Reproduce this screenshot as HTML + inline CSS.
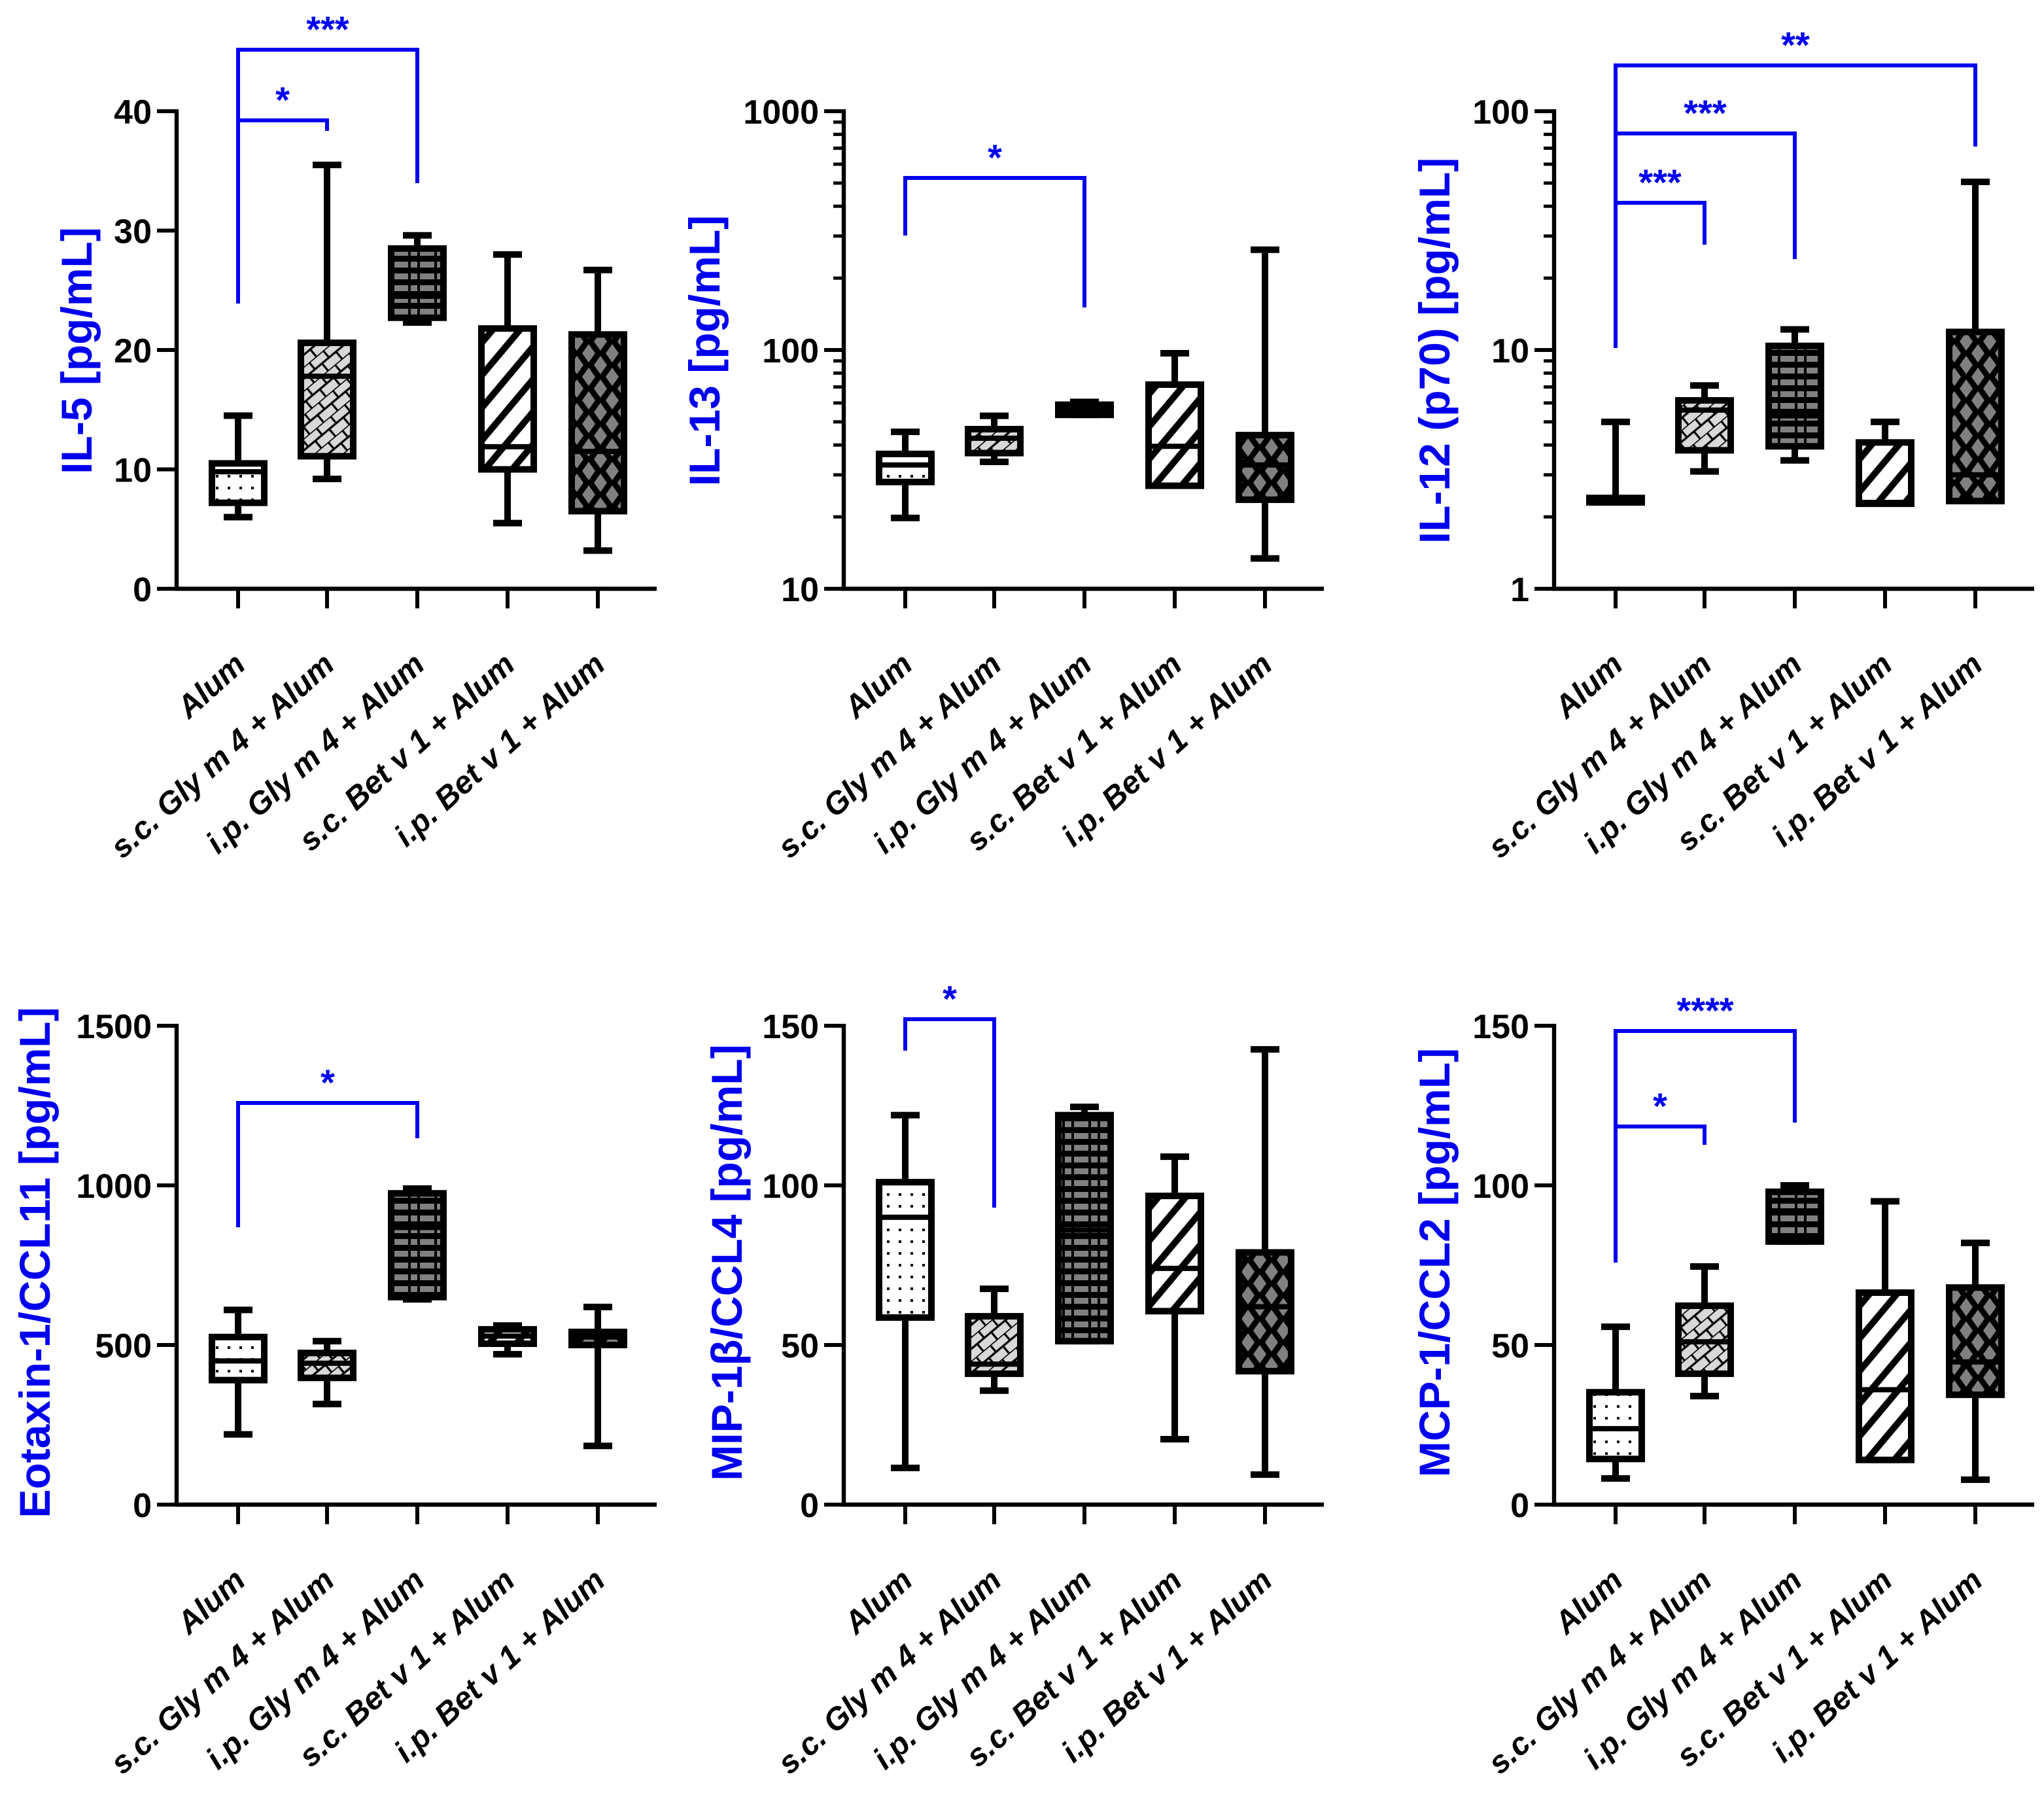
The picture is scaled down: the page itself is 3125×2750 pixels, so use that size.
<!DOCTYPE html>
<html><head><meta charset="utf-8"><style>
html,body{margin:0;padding:0;background:#fff;}
svg{display:block;font-family:"Liberation Sans",Arial,sans-serif;}
</style></head><body>
<svg id="fig" width="3125" height="2750" viewBox="0 0 1562.5 1375" xmlns="http://www.w3.org/2000/svg">
<defs>
<pattern id="p0" width="9" height="9" patternUnits="userSpaceOnUse"><rect width="9" height="9" fill="#fff"/><rect x="3" y="3" width="2" height="2" fill="#000"/></pattern>
<pattern id="p1" width="14" height="14" patternUnits="userSpaceOnUse" patternTransform="rotate(-40)"><rect width="14" height="14" fill="#d8d8d8"/><path d="M0 0H14M0 7H14M3 0V7M10 7V14" stroke="#000" stroke-width="1.6"/></pattern>
<pattern id="p2" width="20" height="9" patternUnits="userSpaceOnUse"><rect width="20" height="9" fill="#000"/><rect x="1" y="2" width="11" height="4.5" fill="#808080"/><rect x="14" y="2" width="5" height="4.5" fill="#808080"/></pattern>
<pattern id="p3" width="16" height="16" patternUnits="userSpaceOnUse" patternTransform="rotate(40)"><rect width="16" height="16" fill="#fff"/><rect x="0" y="0" width="5" height="16" fill="#000"/></pattern>
<pattern id="p4" width="18" height="18" patternUnits="userSpaceOnUse"><rect width="18" height="18" fill="#000"/><path d="M9 2L14 9L9 16L4 9Z" fill="#808080"/><path d="M0 -7L5 0L0 7L-5 0Z M18 -7L23 0L18 7L13 0Z M0 11L5 18L0 25L-5 18Z M18 11L23 18L18 25L13 18Z" fill="#808080"/></pattern>
</defs>
</svg>
<script>
const categories = ["Alum","s.c. Gly m 4 + Alum","i.p. Gly m 4 + Alum","s.c. Bet v 1 + Alum","i.p. Bet v 1 + Alum"];
// [min, q1, median, q3, max] per category
const il5 = [[6,7.2,9.8,10.5,14.5],[9.2,11.1,17.8,20.6,35.5],[22.3,22.7,24.5,28.5,29.6],[5.5,10,11.9,21.8,28],[3.2,6.5,11.5,21.3,26.7]];
const il13 = [[19.8,28,33,36.7,45.4],[34,37,42.7,46.6,53],[53.5,53.5,56,59,60.6],[27,27,39.5,71.6,96.9],[13.4,23.6,33,44,263]];
const il12 = [[2.3,2.3,2.35,2.4,5.0],[3.1,3.8,5.6,6.15,7.1],[3.45,3.95,5.3,10.4,12.2],[2.27,2.27,2.3,4.1,5.0],[2.33,2.33,3.0,11.9,50.6]];
const eotaxin = [[220,390,450,525,610],[315,397,443,475,512],[643,650,868,975,990],[471,504,528,549,561],[184,500,525,541,619]];
const mip1b = [[11.5,58.6,90,101,122],[35.7,41,44,59,67.6],[51.2,51.2,86,122,124.6],[20.5,60.6,74,96.7,109],[9.4,41.8,62,79,142.6]];
const mcp1 = [[8.2,14.3,23.8,35.2,55.7],[34,41,51,62.3,74.6],[82.4,82.4,92,98,100],[14,14,36,66.4,95],[7.8,34.4,44.7,68,82]];
const ticksLin40 = [0,10,20,30,40];
const ticksLog3 = [10,100,1000];
const ticksLog2 = [1,10,100];
const ticks1500 = [0,500,1000,1500];
const ticks150 = [0,50,100,150];
const titles = ["IL-5 [pg/mL]","IL-13 [pg/mL]","IL-12 (p70) [pg/mL]","Eotaxin-1/CCL11 [pg/mL]","MIP-1β/CCL4 [pg/mL]","MCP-1/CCL2 [pg/mL]"];
// significance: [from, to, stars]
const sig1 = [[0,1,"*"],[0,2,"***"]];
const sig2 = [[0,2,"*"]];
const sig3 = [[0,1,"***"],[0,2,"***"],[0,4,"**"]];
const sig4 = [[0,2,"*"]];
const sig5 = [[0,1,"*"]];
const sig6 = [[0,1,"*"],[0,2,"****"]];
// bracket geometry (annotation pixel layout): [topY, leftEndY, rightEndY]
const brk1 = [[92,232,100],[38,232,140]];
const brk2 = [[136,180,235]];
const brk3 = [[155,266,187],[102,188,198],[50,112,112]];
const brk4 = [[843,938,870]];
const brk5 = [[779,803,923]];
const brk6 = [[861,965,875],[788,965,858]];

const NS="http://www.w3.org/2000/svg";
const svg=document.getElementById('fig');
function mk(tag,attrs,parent){const e=document.createElementNS(NS,tag);for(const k in attrs)e.setAttribute(k,attrs[k]);(parent||svg).appendChild(e);return e;}
const fills=["url(#p0)","url(#p1)","url(#p2)","url(#p3)","url(#p4)"];

function panel(o){
  const g=mk('g',{});
  
  
  const ax=o.ax, y0=o.y0, y1=o.y1, xs=[ax+47,ax+115,ax+184,ax+253,ax+322];
  let yf;
  if(o.log){const a=Math.log10(o.ticks[0]),b=Math.log10(o.ticks[o.ticks.length-1]);yf=v=>y0-(Math.log10(v)-a)/(b-a)*(y0-y1);}
  else{const a=o.ticks[0],b=o.ticks[o.ticks.length-1];yf=v=>y0-(v-a)/(b-a)*(y0-y1);}
  const yl=mk('line',{x1:ax,y1:y1-1.5,x2:ax,y2:y0+1.5,stroke:'#000','stroke-width':3.2},g);
  
  
  const xl=mk('line',{x1:ax-1.5,y1:y0,x2:ax+367,y2:y0,stroke:'#000','stroke-width':3.2},g);
  
  
  o.ticks.forEach(t=>{
    const y=yf(t);
    mk('line',{x1:ax-15,y1:y,x2:ax,y2:y,stroke:'#000','stroke-width':3},g);
    const tx=mk('text',{x:ax-19,y:y+9.5,'text-anchor':'end','font-size':26,'font-weight':'bold'},g);
    tx.textContent=t;
    
    
  });
  if(o.log){
    for(let i=0;i<o.ticks.length-1;i++)for(let m=2;m<10;m++){const y=yf(o.ticks[i]*m);mk('line',{x1:ax-8,y1:y,x2:ax,y2:y,stroke:'#000','stroke-width':2.5},g);}
  }
  const tt=mk('text',{x:0,y:0,transform:`translate(${o.tx},${o.ty}) rotate(-90)`,'text-anchor':'middle','font-size':33,'font-weight':'bold',fill:'#0000ee'},g);
  tt.textContent=o.title;
  
  
  categories.forEach((c,i)=>{
    mk('line',{x1:xs[i],y1:y0,x2:xs[i],y2:y0+15,stroke:'#000','stroke-width':3},g);
    const lb=mk('text',{x:0,y:0,transform:`translate(${xs[i]+7},${y0+60}) rotate(-42)`,'text-anchor':'end','font-size':24,'font-weight':'bold','font-style':'italic'},g);
    lb.textContent=c;
    
    
  });
  o.data.forEach((d,i)=>{
    const x=xs[i], w=40, cw=22;
    const bg=mk('g',{},g);
    
    
    const [mn,q1,md,q3,mx]=d.map(yf);
    mk('line',{x1:x,y1:mx,x2:x,y2:mn,stroke:'#000','stroke-width':5},bg);
    mk('line',{x1:x-cw/2,y1:mx,x2:x+cw/2,y2:mx,stroke:'#000','stroke-width':5},bg);
    mk('line',{x1:x-cw/2,y1:mn,x2:x+cw/2,y2:mn,stroke:'#000','stroke-width':5},bg);
    mk('rect',{x:x-w/2,y:q3,width:w,height:Math.max(q1-q3,0.1),fill:fills[i],stroke:'#000','stroke-width':5},bg);
    mk('line',{x1:x-w/2,y1:md,x2:x+w/2,y2:md,stroke:'#000','stroke-width':4},bg);
  });
  o.sig.forEach((s,k)=>{
    const [ty,ly,ry]=o.brk[k];
    const xa=xs[s[0]], xb=xs[s[1]];
    const p=mk('path',{d:`M${xa} ${ly}V${ty}H${xb}V${ry}`,fill:'none',stroke:'#0000ee','stroke-width':3},g);
    
    
    const st=mk('text',{x:(xa+xb)/2,y:ty-6,'text-anchor':'middle','font-size':28,'font-weight':'bold',fill:'#0000ee'},g);
    st.textContent=s[2];
    
    
  });
}
panel({name:'il5',ax:135,y0:450,y1:85,ticks:ticksLin40,log:false,data:il5,title:titles[0],tx:70,ty:268,sig:sig1,brk:brk1});
panel({name:'il13',ax:645,y0:450,y1:85,ticks:ticksLog3,log:true,data:il13,title:titles[1],tx:550,ty:268,sig:sig2,brk:brk2});
panel({name:'il12',ax:1188,y0:450,y1:85,ticks:ticksLog2,log:true,data:il12,title:titles[2],tx:1108,ty:268,sig:sig3,brk:brk3});
panel({name:'eotaxin',ax:135,y0:1150,y1:784,ticks:ticks1500,log:false,data:eotaxin,title:titles[3],tx:38,ty:965,sig:sig4,brk:brk4});
panel({name:'mip1b',ax:645,y0:1150,y1:784,ticks:ticks150,log:false,data:mip1b,title:titles[4],tx:567,ty:965,sig:sig5,brk:brk5});
panel({name:'mcp1',ax:1188,y0:1150,y1:784,ticks:ticks150,log:false,data:mcp1,title:titles[5],tx:1108,ty:965,sig:sig6,brk:brk6});
</script>
</body></html>
